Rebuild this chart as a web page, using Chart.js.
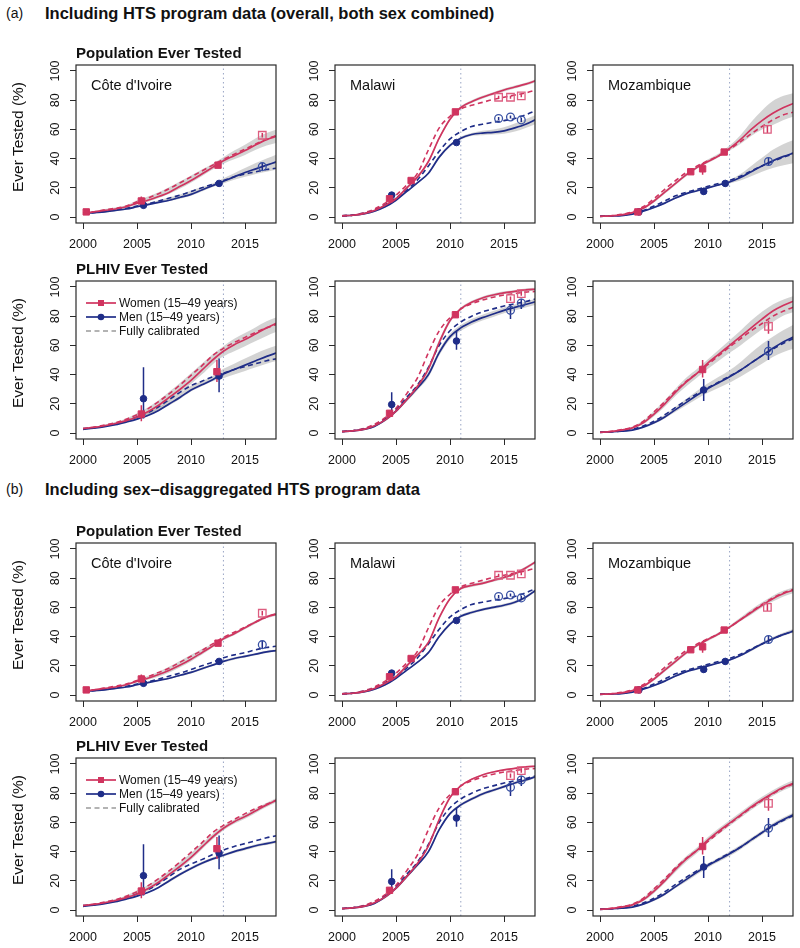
<!DOCTYPE html>
<html><head><meta charset="utf-8">
<script src="https://cdn.jsdelivr.net/npm/chart.js@4/dist/chart.umd.min.js"></script>
<style>
html,body{margin:0;padding:0;background:#fff;}
body{width:800px;height:948px;position:relative;overflow:hidden;font-family:"Liberation Sans",Arial,Helvetica,sans-serif;}
.t{position:absolute;white-space:nowrap;color:#111;line-height:1;}
canvas{position:absolute;}
</style></head><body>
<script>
// ---------------- DATA ----------------
const years = [2000,2001,2002,2003,2004,2005,2006,2007,2008,2009,2010,2011,2012,2013,2014,2015,2016,2017,2018];
const xTicks = [2000,2005,2010,2015];
const yTicks = [0,20,40,60,80,100];
const countries = ["Côte d'Ivoire","Malawi","Mozambique"];
const vlineYear = [2013,2011,2012];

// (a) Population ever tested
const civPopA_W   = [2.5,3.5,4.5,5.5,7,9.5,11.5,14,17,21,25,29.5,34,38.5,42,45.5,49.5,53,55.5];
const civPopA_Wc  = [2.5,3.5,5,6,7.5,10.5,13,16,19.5,23.5,27.5,31.5,35.5,39.5,43,46.5,50,53.5,56];
const civPopA_Wlo = [2,3,4,5,6.5,8.5,10.5,13,16,19.5,23.5,28,32.5,36.5,39.5,42.5,46,49,51];
const civPopA_Whi = [3,4,5.5,6.5,8,11.5,14,17,20.5,24.5,28.5,32.5,36.5,41,45.5,49.5,54,57.5,60];
const civPopA_M   = [2.5,3,3.5,4.5,5.5,7,8.5,10,11.5,13.5,15.5,18.5,21.5,24.5,27.5,30.5,33,35.5,38];
const civPopA_Mc  = [2.5,3,4,5,6,7.5,9,11,13,15,17.5,20,22.5,25,27.5,29.5,31,32.5,33.5];
const civPopA_Mlo = [2,2.5,3,4,5,6.5,8,9.5,11,12.5,14.5,17.5,20.5,23,25.5,27.5,29.5,31,32.5];
const civPopA_Mhi = [3,3.5,4.5,5.5,6.5,8,9.5,11.5,13.5,15.5,18,20.5,23,26.5,30,33.5,37,40,43];

const malPopA_W   = [0.8,1.2,2.3,4.5,8,12.5,20,27.5,38,54,67,75,79,82,84.5,87,89,91,93.5];
const malPopA_Wc  = [0.8,1.3,2.8,5.5,9.5,15,22,30,46,61,69,74,76.5,78.5,80.5,82,83.5,85,87];
const malPopA_Wlo = [0.5,0.9,1.8,3.8,7.2,11.5,19,26.5,37,53,66,74,78,81,83.5,86,88,90,92.5];
const malPopA_Whi = [1.1,1.5,2.8,5.2,8.8,13.5,21,28.5,39,55,68,76,80,83,85.5,88,90,92,94.5];
const malPopA_M   = [0.8,1.2,2.2,4,7,11.5,17.5,23.5,30,41,49,54,56.5,57.5,58,59,61,63.5,67];
const malPopA_Mc  = [0.8,1.3,2.7,5,8.5,13,18.5,25.5,35,45,53.5,58.5,62,63.5,65,66,67.5,70,73];
const malPopA_Mlo = [0.5,0.9,1.8,3.5,6.5,11,17,23,29.5,40,48,53,55.5,56,56.5,57,58.5,61,64];
const malPopA_Mhi = [1.1,1.5,2.6,4.5,7.5,12,18,24,30.5,42,50,55,57.5,59,60,61.5,64,67,70];

const mozPopA_W   = [0.5,0.8,1.5,3,6,11,17,23,29,34,38,42,47,53,60,66,71,75,78];
const mozPopA_Wc  = [0.5,0.9,1.8,3.5,7,12.5,19,25,30.5,35,38.5,42,46.5,51.5,57,62,66.5,70,72];
const mozPopA_Wlo = [0.3,0.6,1.2,2.6,5.4,10,16,22,28,33,37,41,45.5,50,55.5,60,63,66.5,69];
const mozPopA_Whi = [0.7,1,1.8,3.4,6.6,12,18,24,30,35,39.5,43.5,49,56,65,73,79.5,83,85];
const mozPopA_M   = [0.5,0.7,1,2,4,6.5,9.5,13,16,18,20,22,24,27,31,35,38.5,41.5,44];
const mozPopA_Mc  = [0.5,0.8,1.3,2.5,4.5,7.5,11,14.5,17,19,21,23,25,28,31.5,35,38,41,43.5];
const mozPopA_Mlo = [0.3,0.5,0.8,1.7,3.6,6,9,12.5,15.5,17.5,19.5,21.5,23,25,28,31,33.5,35.5,37];
const mozPopA_Mhi = [0.7,0.9,1.3,2.4,4.6,7.2,10.2,13.8,16.8,19,21,23,25.5,29.5,35,40.5,46,50,53];

// (a) PLHIV ever tested
const civHivA_W   = [3,3.8,5,6.5,8.5,11,14.5,19,24.5,30,36,43,50,56,60.5,64,68,72,75.5];
const civHivA_Wc  = [3,4,5.5,7,9.5,12.5,16.5,21.5,27,33,39.5,46,53,58,62,65.5,69,72,74.5];
const civHivA_Wlo = [2.5,3.3,4.5,6,7.5,9.5,12.5,16.5,22,27.5,33.5,40,47,52.5,56,59.5,63,66.5,69.5];
const civHivA_Whi = [3.5,4.3,5.8,7.5,10,13.5,17.5,22.5,28.5,34.5,41,47.5,54,59.5,64.5,68.5,72.5,76.5,79.5];
const civHivA_M   = [2.5,3.3,4.3,5.7,7.5,9.5,12,15.5,20,24.5,29.5,33,36.5,40.5,43.5,46.5,49.5,52.5,55];
const civHivA_Mc  = [3,3.7,4.8,6.5,8.5,11,14,18,23,28,32.5,35.5,38.5,41,43.5,45.5,47.5,49.5,51];
const civHivA_Mlo = [2.2,3,4,5.3,7,9,11.5,15,19,23.5,28.5,32,35.5,37.5,40,42.5,45,47.5,49.5];
const civHivA_Mhi = [3,3.8,5,6.5,8.5,11,14,17.5,22.5,27.5,32.5,35.5,39,44,47.5,51,54.5,57.5,60];

const malHivA_W   = [1,1.5,2.5,5,9,15,23,32,44,62,77,85,89.5,92.5,94.5,96,97,98,98.5];
const malHivA_Wc  = [1,1.6,3,6,10.5,17,27,38,55,70,79,85,88.5,91,93,94.5,95.5,96.5,97];
const malHivA_Wlo = [0.7,1.2,2,4.5,8,14,22,30.5,42.5,60,75.5,84,88.5,91.5,93.5,95,96,97,97.5];
const malHivA_Whi = [1.3,1.8,3,5.5,10,16,24,33.5,45.5,64,78.5,86,90.5,93.5,95.5,97,98,99,99.5];
const malHivA_M   = [1,1.5,2.5,4.5,9,15,23,31,40,55,66,72,76,79,81.5,84,86,88,90];
const malHivA_Mc  = [1,1.6,2.8,5.5,10,16,24.5,33,45,60,70,76,80,83,85,87,88.5,90,92];
const malHivA_Mlo = [0.7,1.2,2,4,8,14,21.5,29.5,38,53,64,70,74,77,79.5,82,84,86,88];
const malHivA_Mhi = [1.3,1.8,3,5,10,16,24.5,32.5,42,57,68,74,78,81,83.5,86,88,90,92];

const mozHivA_W   = [0.5,1,2,3.5,7,13,20,28,35,41,48,54,60,66,72,78,83.5,87.5,90.5];
const mozHivA_Wc  = [0.5,1.2,2.3,4,8,14.5,21.5,29,35.5,41,47,53,59,64.5,70,75,80,83.5,86.5];
const mozHivA_Wlo = [0.3,0.8,1.6,3,6,11.5,18,25.5,32,38,44,49.5,55,60,65.5,71,76,80.5,83];
const mozHivA_Whi = [0.7,1.2,2.4,4.5,8.5,15,22.5,30.5,38,44,50.5,57,63.5,70,77,83,88,91.5,94];
const mozHivA_M   = [0.5,0.8,1.2,2,4,7,11,16,21,26,30.5,34.5,38.5,43,48,53,58,62.5,66];
const mozHivA_Mc  = [0.5,0.8,1.4,2.5,4.8,8,12.5,17.5,22.5,27,31,35,39,43,48,53,57.5,61.5,65];
const mozHivA_Mlo = [0.3,0.6,1,1.7,3.5,6.2,10,14.5,19,23.5,27.5,31,34.5,38.5,43,47.5,52,55.5,58];
const mozHivA_Mhi = [0.7,1,1.5,2.5,4.8,8,12.5,18,23.5,29,34,38.5,43,48.5,55,61,66,70.5,74.5];

// (b) Population ever tested
const civPopB_W   = [2.5,3.5,4.5,5.5,7,9.5,11.5,14,17,20.5,24.5,29,33.5,38.5,42,46,50,53.5,55.5];
const civPopB_Wc  = [2.5,3.5,4.8,6,7.5,10,12.5,15.5,18.5,22.5,26.5,30.5,35,39.5,43,46.5,50,53.5,56];
const civPopB_Wlo = [2,3,4,5,6.5,8.5,10.5,12.5,15.5,19,23,27.5,32.5,37.5,41,45,49,52.5,54.5];
const civPopB_Whi = [3,4,5,6,7.5,10.5,13,16,19.5,23.5,27.5,31.5,35,39.5,43,47,51,54.5,56.5];
const civPopB_M   = [2.5,3,3.5,4.5,5.5,7,8.5,10,11.5,13.5,15.5,18,20.5,23,25,26.5,28,29.5,30.5];
const civPopB_Mc  = [2.5,3,4,5,6,7.5,9,11,13,15,17.5,20,22.5,25.5,27.5,29,31,32.5,33.5];
const civPopB_Mlo = [2,2.5,3,4,5,6.5,8,9.5,11,12.8,14.8,17.2,19.8,22.2,24.2,25.7,27.2,28.7,29.7];
const civPopB_Mhi = [3,3.5,4,5,6,7.5,9,10.5,12,14.2,16.2,18.8,21.2,23.8,25.8,27.3,28.8,30.3,31.3];

const malPopB_W   = [0.8,1.2,2.3,4.5,8,12.5,20,27.5,36,53,66,73,75,76.5,78.5,80.5,83,87,91.5];
const malPopB_Wc  = [0.8,1.3,2.8,5.5,9.5,15,22,30,46,61,69,74,76.5,78.5,80.5,82,83.5,85,87];
const malPopB_Wlo = [0.5,0.9,1.8,3.8,7.2,11.5,19,26.5,35,52,65,72,74,75.5,77.5,79.5,82,86,90.5];
const malPopB_Whi = [1.1,1.5,2.8,5.2,8.8,13.5,21,28.5,37,54,67,74,76,77.5,79.5,81.5,84,88,92.5];
const malPopB_M   = [0.8,1.2,2.2,4,7,11.5,17,22.5,29,40,48.5,54,56.5,58.5,60,61.5,63.5,67,72];
const malPopB_Mc  = [0.8,1.3,2.7,5,8.5,13,18.5,25.5,35,45,53.5,58.5,62,63.5,65,66,67.5,70,73];
const malPopB_Mlo = [0.5,0.9,1.8,3.5,6.5,11,16.5,22,28.5,39,47.5,53,55.5,57.5,59,60.5,62.5,66,71];
const malPopB_Mhi = [1.1,1.5,2.6,4.5,7.5,12,17.5,23,29.5,41,49.5,55,57.5,59.5,61,62.5,64.5,68,73];

const mozPopB_W   = [0.5,0.8,1.5,3,6,11,17,23,29,34,38,42,46.5,51.5,56.5,61.5,66,69.5,72];
const mozPopB_Wc  = [0.5,0.9,1.8,3.5,7,12.5,19,25,30.5,35,38.5,42,46.5,51.5,57,62,66.5,70,72.5];
const mozPopB_Wlo = [0.3,0.6,1.2,2.6,5.4,10,16,22,28,33,37,41,45.5,50.5,55,60,64,67.5,70];
const mozPopB_Whi = [0.7,1,1.8,3.4,6.6,12,18.5,24.5,30.5,35,39,43,47.5,53,58.5,63.5,68,71.5,74];
const mozPopB_M   = [0.5,0.7,1,2,4,6.5,9.5,13,16,18,20,22,24,27,31,35,38.5,41.5,44];
const mozPopB_Mc  = [0.5,0.8,1.3,2.5,4.5,7.5,11,14.5,17,19,21,23,25,28,31.5,35,38.5,41.5,44];
const mozPopB_Mlo = [0.3,0.5,0.8,1.7,3.6,6,9,12.5,15.5,17.5,19.5,21.5,23.5,26.3,30,34,37.5,40.5,43];
const mozPopB_Mhi = [0.7,0.9,1.3,2.4,4.6,7.2,10.2,13.8,16.8,19,21,23,24.7,28,32,36.2,39.7,42.8,45.5];

// (b) PLHIV ever tested
const civHivB_W   = [3,3.8,5,6.5,8.5,11,14.5,19,24.5,30,36,43,50,56,60.5,64,68,72,75.5];
const civHivB_Wc  = [3,4,5.5,7,9.5,12.5,16.5,21.5,27,33,39.5,46,53,58,62,66,69.5,72.5,75.5];
const civHivB_Wlo = [2.5,3.3,4.5,6,7.5,9.5,13,17.5,23,28.5,34.5,41.5,48.5,54.5,59,62.5,66.5,70.5,74];
const civHivB_Whi = [3.5,4.3,5.8,7.5,10,13.5,17,21.5,27,33,39,45.5,52,57.5,62,65.5,69.5,73.5,77];
const civHivB_M   = [2.5,3.3,4.3,5.7,7.5,9.5,12,15.5,20,24.5,28.5,32,35,37.5,40,42,44,45.5,47];
const civHivB_Mc  = [3,3.7,4.8,6.5,8.5,11,14,18,23,28,31.5,34.5,38,41,43.5,45.5,47.5,49.5,51];
const civHivB_Mlo = [2.2,3,4,5.3,7,9,11.5,15,19,23.5,27.5,31,34,36.5,39,41,43,44.5,46];
const civHivB_Mhi = [2.8,3.6,4.6,6.1,8,10,12.5,16,21,25.5,29.5,33,36,38.5,41,43,45,46.5,48];

const malHivB_W   = [1,1.5,2.5,5,9,15,23,32,44,62,77,85,89.5,92.5,94.5,96,97,98,98.5];
const malHivB_Wc  = [1,1.6,3,6,10.5,17,27,38,55,70,79,85,88.5,91,93,94.5,95.5,96.5,97];
const malHivB_Wlo = [0.7,1.2,2,4.5,8,14,22,31,43,61,76,84.5,89,92,94,95.5,96.5,97.5,98];
const malHivB_Whi = [1.3,1.8,3,5.5,10,16,24,33,45,63,78,85.5,90,93,95,96.5,97.5,98.5,99];
const malHivB_M   = [1,1.5,2.5,4.5,9,15,23,31,40,55,66,72,76,79.5,82,84.5,87,89,91.5];
const malHivB_Mc  = [1,1.6,2.8,5.5,10,16,24.5,33,45,60,70,76,80,83,85,87,88.5,90,92];
const malHivB_Mlo = [0.7,1.2,2,4,8,14,22,30,39,54,65,71,75,78.5,81,83.5,86,88,90.5];
const malHivB_Mhi = [1.3,1.8,3,5,10,16,24,32,41,56,67,73,77,80.5,83,85.5,88,90,92.5];

const mozHivB_W   = [0.5,1,2,3.5,7,13,20,28,35,41,48,54,59.5,65,70.5,75.5,80,84,87];
const mozHivB_Wc  = [0.5,1.2,2.3,4,8,14.5,21.5,29,35.5,41,47,53,59,64.5,70,75,79.5,83.5,86.5];
const mozHivB_Wlo = [0.3,0.8,1.6,3,6,11.5,18.5,26,33,39,46,52,57.5,63,68.5,73.5,78,82,85];
const mozHivB_Whi = [0.7,1.2,2.4,4.5,8.5,15,22,30,37,43,50,56,61.5,67,72.5,77.5,82,86,89];
const mozHivB_M   = [0.5,0.8,1.2,2,4,7,11,16,21,26,30.5,34.5,38.5,43,48,53,58,62,65.5];
const mozHivB_Mc  = [0.5,0.8,1.4,2.5,4.8,8,12.5,17.5,22.5,27,31,35,39,43,48,53,57.5,61.5,65];
const mozHivB_Mlo = [0.3,0.6,1,1.7,3.5,6.2,10,15,19.5,24.5,29,33,37,41.5,46.5,51.5,56.5,60.5,64];
const mozHivB_Mhi = [0.7,1,1.5,2.5,4.8,8,12,17,22.5,27.5,32,36,40,44.5,49.5,54.5,59.5,63.5,67];

// observed points: [year, value, lower, upper]
const civPop_Wsv = [[2000.3,3.5,2.5,4.5],[2005.4,11,8,14],[2012.5,35.5,33.5,37.5]];
const civPop_Msv = [[2005.6,8,7,9],[2012.6,23,21.5,24.5]];
const civPop_Wpg = [[2016.6,56,54.5,57.5]];
const civPop_Mpg = [[2016.6,34.5,32,37]];
const malPop_Wsv = [[2004.4,12.5,11.5,13.5],[2006.4,25,24,26],[2010.5,72,70.5,73.5]];
const malPop_Msv = [[2004.6,15,14,16],[2010.6,51,50,52]];
const malPop_Wpg = [[2014.5,82,81,83],[2015.6,82,81,83],[2016.6,83,82,84]];
const malPop_Mpg = [[2014.5,67.5,66.5,68.5],[2015.6,68.5,67.5,69.5],[2016.6,66.5,65,68]];
const mozPop_Wsv = [[2003.5,3.5,2.5,4.5],[2008.4,31,30,32],[2009.5,33,29,37],[2011.5,44.5,43,46]];
const mozPop_Msv = [[2003.6,3.5,2.5,4.5],[2009.6,17.5,15.5,20],[2011.6,23,21,25]];
const mozPop_Wpg = [[2015.5,60,57.5,62.5]];
const mozPop_Mpg = [[2015.6,38,35.5,40.5]];
const civHiv_Wsv = [[2005.4,13,8,19],[2012.4,42,35,50]];
const civHiv_Msv = [[2005.6,23.5,10,45],[2012.6,39,28,51]];
const civHiv_Wpg = [];
const civHiv_Mpg = [];
const malHiv_Wsv = [[2004.4,13.5,11.5,15.5],[2010.5,81,79,83]];
const malHiv_Msv = [[2004.6,19.5,14,28],[2010.6,63,57,70]];
const malHiv_Wpg = [[2015.6,92,90.5,93.5],[2016.6,95.5,94,97]];
const malHiv_Mpg = [[2015.6,84,78,88],[2016.6,89,85,92]];
const mozHiv_Wsv = [[2009.5,43.5,38,50]];
const mozHiv_Msv = [[2009.6,29.5,22,37]];
const mozHiv_Wpg = [[2015.6,73,68,77]];
const mozHiv_Mpg = [[2015.6,56,50,63]];

// --------------- STYLE / LAYOUT ---------------
const FONT = '"Liberation Sans", Arial, Helvetica, sans-serif';
const RED = '#d0345f', RED_L = '#dd5e80', BLUE = '#1f2d88', BLUE_L = '#3a52a4';
const BAND = 'rgba(150,150,150,0.42)', VLINE = '#98a4c4';
const colLeft = [76,335,593], rowTop = [65,281,543,758], BW = 200, BH = 158;
const PADT = 15, PADR = 15, AXW = 50, AXH = 32;

const panels = [
 {r:0,c:0,W:civPopA_W,Wc:civPopA_Wc,Wlo:civPopA_Wlo,Whi:civPopA_Whi,M:civPopA_M,Mc:civPopA_Mc,Mlo:civPopA_Mlo,Mhi:civPopA_Mhi,Wsv:civPop_Wsv,Msv:civPop_Msv,Wpg:civPop_Wpg,Mpg:civPop_Mpg},
 {r:0,c:1,W:malPopA_W,Wc:malPopA_Wc,Wlo:malPopA_Wlo,Whi:malPopA_Whi,M:malPopA_M,Mc:malPopA_Mc,Mlo:malPopA_Mlo,Mhi:malPopA_Mhi,Wsv:malPop_Wsv,Msv:malPop_Msv,Wpg:malPop_Wpg,Mpg:malPop_Mpg},
 {r:0,c:2,W:mozPopA_W,Wc:mozPopA_Wc,Wlo:mozPopA_Wlo,Whi:mozPopA_Whi,M:mozPopA_M,Mc:mozPopA_Mc,Mlo:mozPopA_Mlo,Mhi:mozPopA_Mhi,Wsv:mozPop_Wsv,Msv:mozPop_Msv,Wpg:mozPop_Wpg,Mpg:mozPop_Mpg},
 {r:1,c:0,W:civHivA_W,Wc:civHivA_Wc,Wlo:civHivA_Wlo,Whi:civHivA_Whi,M:civHivA_M,Mc:civHivA_Mc,Mlo:civHivA_Mlo,Mhi:civHivA_Mhi,Wsv:civHiv_Wsv,Msv:civHiv_Msv,Wpg:civHiv_Wpg,Mpg:civHiv_Mpg},
 {r:1,c:1,W:malHivA_W,Wc:malHivA_Wc,Wlo:malHivA_Wlo,Whi:malHivA_Whi,M:malHivA_M,Mc:malHivA_Mc,Mlo:malHivA_Mlo,Mhi:malHivA_Mhi,Wsv:malHiv_Wsv,Msv:malHiv_Msv,Wpg:malHiv_Wpg,Mpg:malHiv_Mpg},
 {r:1,c:2,W:mozHivA_W,Wc:mozHivA_Wc,Wlo:mozHivA_Wlo,Whi:mozHivA_Whi,M:mozHivA_M,Mc:mozHivA_Mc,Mlo:mozHivA_Mlo,Mhi:mozHivA_Mhi,Wsv:mozHiv_Wsv,Msv:mozHiv_Msv,Wpg:mozHiv_Wpg,Mpg:mozHiv_Mpg},
 {r:2,c:0,W:civPopB_W,Wc:civPopB_Wc,Wlo:civPopB_Wlo,Whi:civPopB_Whi,M:civPopB_M,Mc:civPopB_Mc,Mlo:civPopB_Mlo,Mhi:civPopB_Mhi,Wsv:civPop_Wsv,Msv:civPop_Msv,Wpg:civPop_Wpg,Mpg:civPop_Mpg},
 {r:2,c:1,W:malPopB_W,Wc:malPopB_Wc,Wlo:malPopB_Wlo,Whi:malPopB_Whi,M:malPopB_M,Mc:malPopB_Mc,Mlo:malPopB_Mlo,Mhi:malPopB_Mhi,Wsv:malPop_Wsv,Msv:malPop_Msv,Wpg:malPop_Wpg,Mpg:malPop_Mpg},
 {r:2,c:2,W:mozPopB_W,Wc:mozPopB_Wc,Wlo:mozPopB_Wlo,Whi:mozPopB_Whi,M:mozPopB_M,Mc:mozPopB_Mc,Mlo:mozPopB_Mlo,Mhi:mozPopB_Mhi,Wsv:mozPop_Wsv,Msv:mozPop_Msv,Wpg:mozPop_Wpg,Mpg:mozPop_Mpg},
 {r:3,c:0,W:civHivB_W,Wc:civHivB_Wc,Wlo:civHivB_Wlo,Whi:civHivB_Whi,M:civHivB_M,Mc:civHivB_Mc,Mlo:civHivB_Mlo,Mhi:civHivB_Mhi,Wsv:civHiv_Wsv,Msv:civHiv_Msv,Wpg:civHiv_Wpg,Mpg:civHiv_Mpg},
 {r:3,c:1,W:malHivB_W,Wc:malHivB_Wc,Wlo:malHivB_Wlo,Whi:malHivB_Whi,M:malHivB_M,Mc:malHivB_Mc,Mlo:malHivB_Mlo,Mhi:malHivB_Mhi,Wsv:malHiv_Wsv,Msv:malHiv_Msv,Wpg:malHiv_Wpg,Mpg:malHiv_Mpg},
 {r:3,c:2,W:mozHivB_W,Wc:mozHivB_Wc,Wlo:mozHivB_Wlo,Whi:mozHivB_Whi,M:mozHivB_M,Mc:mozHivB_Mc,Mlo:mozHivB_Mlo,Mhi:mozHivB_Mhi,Wsv:mozHiv_Wsv,Msv:mozHiv_Msv,Wpg:mozHiv_Wpg,Mpg:mozHiv_Mpg}
];

// --------------- HELPERS ---------------
function addText(txt, x, y, css){
  const d = document.createElement('div');
  d.className = 't'; d.textContent = txt;
  d.style.left = x + 'px'; d.style.top = y + 'px';
  d.style.transform = 'translateY(-50%)';
  Object.assign(d.style, css || {});
  document.body.appendChild(d); return d;
}
const ser = arr => years.map((x,i) => ({x:x, y:arr[i]}));
const pts = arr => arr.map(p => ({x:p[0], y:p[1]}));
const bars = arr => { const o=[]; arr.forEach(p => { o.push({x:p[0],y:p[2]},{x:p[0],y:p[3]},{x:p[0],y:null}); }); return o; };

const boxPlugin = {
  id:'box',
  afterDraw(chart){
    const a = chart.chartArea, ctx = chart.ctx;
    ctx.save(); ctx.strokeStyle = '#2a2a2a'; ctx.lineWidth = 1.2;
    ctx.strokeRect(a.left, a.top, a.right - a.left, a.bottom - a.top);
    ctx.restore();
  }
};

Chart.defaults.font.family = FONT;
Chart.defaults.color = '#111';

function makePanel(p){
  const L = colLeft[p.c], T = rowTop[p.r];
  const cv = document.createElement('canvas');
  const Wd = AXW + BW + PADR, Ht = PADT + BH + AXH;
  cv.width = Wd; cv.height = Ht;
  cv.style.left = (L - AXW) + 'px'; cv.style.top = (T - PADT) + 'px';
  cv.style.width = Wd + 'px'; cv.style.height = Ht + 'px';
  document.body.appendChild(cv);
  const v = vlineYear[p.c];
  const line = (arr, col, dash, w, ord) => ({data:ser(arr), borderColor:col, borderWidth:w, borderDash:dash, pointRadius:0, fill:false, cubicInterpolationMode:'monotone', order:ord});
  const ds = [
    {data:ser(p.Wlo), borderWidth:0, pointRadius:0, fill:false, cubicInterpolationMode:'monotone', order:6},
    {data:ser(p.Whi), borderWidth:0, pointRadius:0, fill:'-1', backgroundColor:BAND, cubicInterpolationMode:'monotone', order:6},
    {data:ser(p.Mlo), borderWidth:0, pointRadius:0, fill:false, cubicInterpolationMode:'monotone', order:6},
    {data:ser(p.Mhi), borderWidth:0, pointRadius:0, fill:'-1', backgroundColor:BAND, cubicInterpolationMode:'monotone', order:6},
    {data:[{x:v,y:-4.1},{x:v,y:104.1}], borderColor:VLINE, borderWidth:1, borderDash:[1.5,3], pointRadius:0, fill:false, order:5},
    line(p.Wc, RED, [5,3.5], 1.6, 4),
    line(p.Mc, BLUE, [5,3.5], 1.6, 4),
    line(p.W, RED, [], 1.7, 3),
    line(p.M, BLUE, [], 1.7, 3),
    {data:bars(p.Wsv.concat(p.Wpg)), borderColor:RED, borderWidth:1.5, pointRadius:0, spanGaps:false, fill:false, order:2},
    {data:bars(p.Msv.concat(p.Mpg)), borderColor:BLUE, borderWidth:1.5, pointRadius:0, spanGaps:false, fill:false, order:2},
    {data:pts(p.Wsv), showLine:false, pointStyle:'rect', pointRadius:4.5, backgroundColor:RED, borderColor:RED, borderWidth:1, order:1},
    {data:pts(p.Msv), showLine:false, pointStyle:'circle', pointRadius:3.3, backgroundColor:BLUE, borderColor:BLUE, borderWidth:1, order:1},
    {data:pts(p.Wpg), showLine:false, pointStyle:'rect', pointRadius:5.3, backgroundColor:'rgba(255,255,255,0)', borderColor:RED_L, borderWidth:1.3, order:0},
    {data:pts(p.Mpg), showLine:false, pointStyle:'circle', pointRadius:3.9, backgroundColor:'rgba(255,255,255,0)', borderColor:BLUE_L, borderWidth:1.3, order:0}
  ];
  new Chart(cv, {
    type:'line',
    data:{datasets:ds},
    options:{
      responsive:false, animation:false, devicePixelRatio:1, events:[],
      layout:{padding:{top:PADT, right:PADR, left:0, bottom:0}},
      plugins:{legend:{display:false}, tooltip:{enabled:false}},
      scales:{
        x:{type:'linear', min:1999.35, max:2017.87, bounds:'data',
           afterBuildTicks:s => { s.ticks = xTicks.map(t => ({value:t})); },
           afterFit:s => { s.height = AXH; },
           border:{display:false},
           grid:{drawOnChartArea:false, drawTicks:true, tickLength:6, tickColor:'#2a2a2a', tickWidth:1},
           ticks:{autoSkip:false, maxRotation:0, minRotation:0, padding:8, color:'#111', font:{size:12.5, family:FONT}, callback:val => String(val)}},
        y:{type:'linear', min:-4.1, max:104.1, bounds:'data',
           afterBuildTicks:s => { s.ticks = yTicks.map(t => ({value:t})); },
           afterFit:s => { s.width = AXW; },
           border:{display:false},
           grid:{drawOnChartArea:false, drawTicks:true, tickLength:6, tickColor:'#2a2a2a', tickWidth:1},
           ticks:{autoSkip:false, minRotation:90, maxRotation:90, crossAlign:'center', padding:4, color:'#111', font:{size:12.5, family:FONT}, callback:val => String(val)}}
      }
    },
    plugins:[boxPlugin]
  });
}

panels.forEach(makePanel);

// --------------- TEXT ---------------
addText('(a)', 6, 13, {fontSize:'14px'});
addText('Including HTS program data (overall, both sex combined)', 45, 13, {fontSize:'16.5px', fontWeight:'bold'});
addText('(b)', 6, 489, {fontSize:'14px'});
addText('Including sex\u2013disaggregated HTS program data', 45, 489, {fontSize:'16.5px', fontWeight:'bold'});

const rowTitles = ['Population Ever Tested','PLHIV Ever Tested','Population Ever Tested','PLHIV Ever Tested'];
rowTop.forEach((t, r) => {
  addText(rowTitles[r], 76, t - 13, {fontSize:'15px', fontWeight:'bold'});
  const yl = addText('Ever Tested (%)', 18, t + BH/2 - 7, {fontSize:'15.5px'});
  yl.style.transform = 'translate(-50%,-50%) rotate(-90deg)';
  if (r === 0 || r === 2) {
    countries.forEach((name, c) => addText(name, colLeft[c] + 15, t + 20, {fontSize:'14.5px'}));
  }
});

// legends in PLHIV Côte d'Ivoire panels
function legend(top){
  const items = [
    {label:'Women (15\u201349 years)', col:RED, mark:'rect', dash:''},
    {label:'Men (15\u201349 years)', col:BLUE, mark:'circle', dash:''},
    {label:'Fully calibrated', col:'#9a9a9a', mark:'', dash:'5,3.5'}
  ];
  items.forEach((it, i) => {
    const y = top + 21.5 + i*14;
    const svg = document.createElementNS('http://www.w3.org/2000/svg','svg');
    svg.setAttribute('width','32'); svg.setAttribute('height','10');
    svg.style.position = 'absolute'; svg.style.left = (colLeft[0] + 9) + 'px'; svg.style.top = (y - 5) + 'px';
    let s = '<line x1="1" y1="5" x2="31" y2="5" stroke="' + it.col + '" stroke-width="1.7"' + (it.dash ? ' stroke-dasharray="' + it.dash + '"' : '') + '/>';
    if (it.mark === 'rect') s += '<rect x="13" y="2" width="6" height="6" fill="' + it.col + '"/>';
    if (it.mark === 'circle') s += '<circle cx="16" cy="5" r="3.3" fill="' + it.col + '"/>';
    svg.innerHTML = s;
    document.body.appendChild(svg);
    addText(it.label, colLeft[0] + 43, y, {fontSize:'12px'});
  });
}
legend(rowTop[1]);
legend(rowTop[3]);
</script>
</body></html>
